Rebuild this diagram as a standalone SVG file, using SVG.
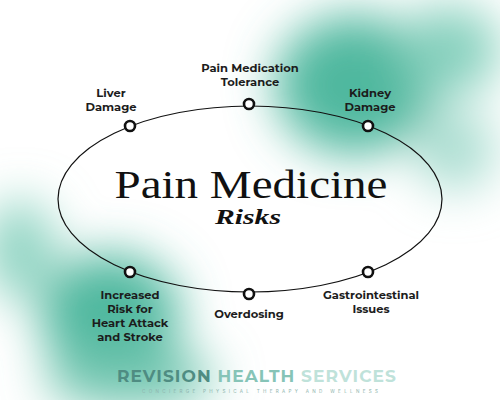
<svg xmlns="http://www.w3.org/2000/svg" width="500" height="400" viewBox="0 0 500 400">
<defs>
<filter id="blur" x="-50%" y="-50%" width="200%" height="200%"><feGaussianBlur stdDeviation="24"/></filter>
<style>
.lbl{font-family:"Montserrat","Inter","Open Sans",sans-serif;font-weight:700;font-size:11.5px;fill:#1c1c1c;text-anchor:middle}
.dot{fill:#fff;stroke:#111;stroke-width:2.6}
.ring{fill:none;stroke:#111;stroke-width:1.2}
</style>
</defs>
<rect width="500" height="400" fill="#fff"/>
<g filter="url(#blur)">
<ellipse cx="355" cy="85" rx="80" ry="70" fill="#4fb89f"/>
<ellipse cx="450" cy="50" rx="50" ry="45" fill="#86d0bd"/>
<ellipse cx="455" cy="150" rx="40" ry="40" fill="#a9ddd0"/>
<ellipse cx="110" cy="315" rx="70" ry="62" fill="#4fb89f"/>
<ellipse cx="130" cy="378" rx="85" ry="30" fill="#72c6b0"/>
<ellipse cx="20" cy="250" rx="35" ry="50" fill="#8fd4c2"/>
</g>
<g id="connectors">
<ellipse class="ring" cx="250" cy="199" rx="192" ry="93"/>
</g>
<g id="title">
<text x="251" y="198" font-family="Liberation Serif,serif" font-size="41" fill="#111" text-anchor="middle" textLength="273" lengthAdjust="spacingAndGlyphs">Pain Medicine</text>
<text x="248" y="224" font-family="Liberation Serif,serif" font-style="italic" font-weight="700" font-size="21" fill="#111" text-anchor="middle" textLength="66" lengthAdjust="spacingAndGlyphs">Risks</text>
</g>
<g id="n-tolerance"><circle class="dot" cx="249" cy="104" r="5"/><text class="lbl" x="250" y="72">Pain Medication</text><text class="lbl" x="250" y="86">Tolerance</text></g>
<g id="n-liver"><circle class="dot" cx="130" cy="126" r="5"/><text class="lbl" x="111" y="97">Liver</text><text class="lbl" x="111" y="111">Damage</text></g>
<g id="n-kidney"><circle class="dot" cx="368" cy="126" r="5"/><text class="lbl" x="370" y="97">Kidney</text><text class="lbl" x="370" y="111">Damage</text></g>
<g id="n-heart"><circle class="dot" cx="130" cy="272" r="5"/><text class="lbl" x="130" y="299">Increased</text><text class="lbl" x="130" y="313">Risk for</text><text class="lbl" x="130" y="327">Heart Attack</text><text class="lbl" x="130" y="341">and Stroke</text></g>
<g id="n-overdose"><circle class="dot" cx="249" cy="294" r="5"/><text class="lbl" x="249" y="318">Overdosing</text></g>
<g id="n-gi"><circle class="dot" cx="368" cy="272" r="5"/><text class="lbl" x="371" y="299">Gastrointestinal</text><text class="lbl" x="371" y="313">Issues</text></g>
<g id="footer">
<text x="257" y="382" font-family="Montserrat,Inter,Open Sans,sans-serif" font-weight="700" font-size="17" letter-spacing="1.2" text-anchor="middle" textLength="280" lengthAdjust="spacing"><tspan fill="#4f8c82">REVISION</tspan><tspan fill="#86c4b7"> HEALTH</tspan><tspan fill="#bfe2da"> SERVICES</tspan></text>
<text x="260" y="393" font-family="Inter,Open Sans,sans-serif" font-size="4.6" fill="#8fb5ae" text-anchor="middle" textLength="236" lengthAdjust="spacing">CONCIERGE PHYSICAL THERAPY AND WELLNESS</text>
</g>
</svg>
